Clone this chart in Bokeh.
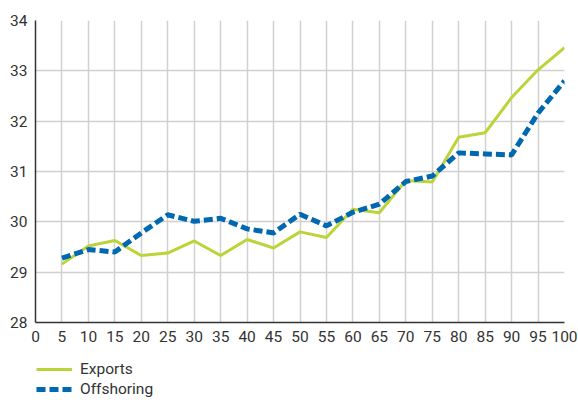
from bokeh.plotting import figure
from bokeh.layouts import column
from bokeh.models import Legend, LegendItem, FixedTicker, Range1d
from bokeh.embed import file_html
from bokeh.resources import INLINE

x_vals = [5, 10, 15, 20, 25, 30, 35, 40, 45, 50, 55, 60, 65, 70, 75, 80, 85, 90, 95, 100]
exports = [29.16, 29.52, 29.63, 29.33, 29.38, 29.62, 29.33, 29.65, 29.48, 29.80,
           29.69, 30.25, 30.18, 30.82, 30.79, 31.68, 31.77, 32.47, 33.02, 33.46]
offshoring = [29.28, 29.45, 29.40, 29.78, 30.14, 30.01, 30.07, 29.86, 29.78, 30.15,
              29.92, 30.19, 30.35, 30.80, 30.91, 31.37, 31.35, 31.33, 32.16, 32.80]
x_ticks = list(range(0, 101, 5))
y_ticks = [28, 29, 30, 31, 32, 33, 34]
series_names = ["Exports", "Offshoring"]

FONT = "Roboto"
FS = "15.5px"
TXT = "#333333"
GREEN = "#bcd438"
BLUE = "#0067b1"
NAN = float("nan")

p = figure(width=578, height=350, output_backend="svg", toolbar_location=None,
           x_range=Range1d(0, 100), y_range=Range1d(28, 34),
           min_border_left=35, min_border_right=14, min_border_top=20, min_border_bottom=28)
p.outline_line_color = None

p.xaxis.ticker = FixedTicker(ticks=x_ticks)
p.yaxis.ticker = FixedTicker(ticks=y_ticks)
for ax in (p.xaxis, p.yaxis):
    ax.major_tick_line_color = None
    ax.minor_tick_line_color = None
    ax.major_tick_out = 0
    ax.major_tick_in = 0
    ax.axis_line_color = "#333333"
    ax.axis_line_width = 1.5
    ax.major_label_text_font = FONT
    ax.major_label_text_font_size = FS
    ax.major_label_text_color = TXT
    ax.major_label_standoff = 8

p.xgrid.ticker = FixedTicker(ticks=x_ticks[1:-1])
p.ygrid.ticker = FixedTicker(ticks=y_ticks[1:-1])
p.xgrid.grid_line_color = "#d0d0d0"
p.ygrid.grid_line_color = "#d0d0d0"
p.xgrid.grid_line_width = 1.5
p.ygrid.grid_line_width = 1.5

p.line(x_vals, exports, line_color=GREEN, line_width=3)
p.line(x_vals, offshoring, line_color=BLUE, line_width=5, line_dash="9 4")

# legend strip below the chart
q = figure(width=578, height=50, output_backend="svg", toolbar_location=None,
           x_range=Range1d(0, 1), y_range=Range1d(0, 1),
           x_axis_type=None, y_axis_type=None,
           min_border_left=0, min_border_right=0, min_border_top=0, min_border_bottom=0)
q.outline_line_color = None
q.xgrid.visible = False
q.ygrid.visible = False
l1 = q.line([NAN], [NAN], line_color=GREEN, line_width=3)
l2 = q.line([NAN], [NAN], line_color=BLUE, line_width=5, line_dash="9 4")

legend = Legend(items=[LegendItem(label=series_names[0], renderers=[l1]),
                       LegendItem(label=series_names[1], renderers=[l2])],
                location=(1, 1), orientation="vertical",
                background_fill_alpha=0, border_line_color=None,
                padding=0, margin=0, spacing=0,
                glyph_width=36, glyph_height=20, label_height=20,
                label_standoff=8, label_text_font=FONT, label_text_font_size=FS,
                label_text_color=TXT)
q.add_layout(legend, "center")

layout = column(p, q, spacing=0)
open("out.html", "w").write(file_html(layout, INLINE))
